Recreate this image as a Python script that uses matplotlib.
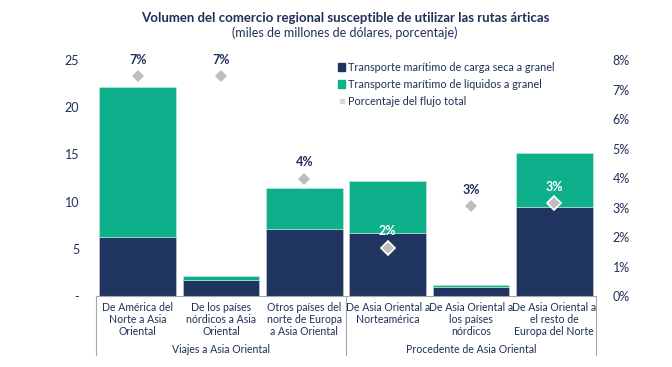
import matplotlib
matplotlib.use("Agg")
import matplotlib.pyplot as plt
from matplotlib.lines import Line2D
from matplotlib.patches import Patch
from matplotlib.transforms import blended_transform_factory

categories = ["De América del\nNorte a Asia\nOriental",
              "De los países\nnórdicos a Asia\nOriental",
              "Otros países del\nnorte de Europa\na Asia Oriental",
              "De Asia Oriental a\nNorteamérica",
              "De Asia Oriental a\nlos países\nnórdicos",
              "De Asia Oriental a\nel resto de\nEuropa del Norte"]
groups = ["Viajes a Asia Oriental", "Procedente de Asia Oriental"]
dry_bulk = [6.2, 1.7, 7.1, 6.7, 0.95, 9.4]
liquid_bulk = [15.9, 0.4, 4.3, 5.5, 0.2, 5.8]
pct_share = [7.45, 7.45, 3.97, 1.63, 3.05, 3.15]
pct_labels = ["7%", "7%", "4%", "2%", "3%", "3%"]
left_ticks = [0, 5, 10, 15, 20, 25]
left_labels = ["-", "5", "10", "15", "20", "25"]
right_ticks = [0, 1, 2, 3, 4, 5, 6, 7, 8]

NAVY = "#1f3560"
GREEN = "#0db08b"
GRAY = "#bdbdbd"
TXT = "#1f3057"

plt.rcParams['font.family'] = ['Lato', 'DejaVu Sans']

fig = plt.figure(figsize=(6.72, 3.67), dpi=100)
ax = fig.add_axes([96/672, 1-296/367, 500/672, (296-60)/367])
ax2 = ax.twinx()

x = list(range(len(categories)))
ax.bar(x, dry_bulk, width=0.92, color=NAVY, edgecolor="#c8d0dc", linewidth=0.4,
       label="Transporte marítimo de carga seca a granel", zorder=2)
ax.bar(x, liquid_bulk, bottom=dry_bulk, width=0.92, color=GREEN, edgecolor="#c8ece2",
       linewidth=0.4, label="Transporte marítimo de líquidos a granel", zorder=2)

ax.set_xlim(-0.5, len(categories) - 0.5)
ax.set_ylim(0, 25)
ax2.set_ylim(0, 8)

for i, (p, lab) in enumerate(zip(pct_share, pct_labels)):
    inside = p / 8 * 25 < dry_bulk[i] + liquid_bulk[i]
    ec = "white" if inside else GRAY
    ax2.plot(i, p, marker="D", markersize=7 if inside else 6, color=GRAY,
             markeredgecolor=ec, markeredgewidth=1.2 if inside else 0, zorder=4, linestyle="none")
    ax2.annotate(lab, (i, p), xytext=(0, 7.5), textcoords="offset points", ha="center",
                 va="bottom", fontsize=9, fontweight="bold",
                 color="white" if inside else TXT, zorder=5)

ax.set_yticks(left_ticks)
ax.set_yticklabels(left_labels)
ax2.set_yticks(right_ticks)
ax2.set_yticklabels([f"{t}%" for t in right_ticks])
for a in (ax, ax2):
    a.tick_params(axis="y", length=0, labelsize=9, labelcolor=TXT, pad=12)
    for s in a.spines.values():
        s.set_visible(False)
ax.set_xticks([])
ax2.set_xticks([])
ax.spines["bottom"].set_visible(True)
ax.spines["bottom"].set_color("#a6a6a6")
ax.spines["bottom"].set_linewidth(0.8)

trans = blended_transform_factory(ax.transData, ax.transAxes)
for i, c in enumerate(categories):
    ax.text(i, -0.025, c, transform=trans, ha="center", va="top", fontsize=7.6,
            color=TXT, linespacing=1.1)
ax.text(1, -0.205, groups[0], transform=trans, ha="center", va="top", fontsize=7.6, color=TXT)
ax.text(4, -0.205, groups[1], transform=trans, ha="center", va="top", fontsize=7.6, color=TXT)
for xv in (-0.5, 2.5, 5.5):
    ax.add_line(Line2D([xv, xv], [0, -0.25], transform=trans, color="#a6a6a6",
                       linewidth=0.8, clip_on=False))

handles = [Patch(color=NAVY), Patch(color=GREEN),
           Line2D([], [], marker="s", color="#d9d9d9", markersize=2.5, linestyle="none")]
labels = ["Transporte marítimo de carga seca a granel",
          "Transporte marítimo de líquidos a granel",
          "Porcentaje del flujo total"]
leg = ax2.legend(handles, labels, loc="upper left", bbox_to_anchor=(0.475, 1.01), frameon=False,
                 fontsize=7.8, handlelength=0.7, handleheight=0.7, handletextpad=0.2,
                 labelspacing=0.55, borderaxespad=0)
for t in leg.get_texts():
    t.set_color(TXT)

fig.text(345/672, 1-18/367, "Volumen del comercio regional susceptible de utilizar las rutas árticas",
         ha="center", va="center", fontsize=9.5, fontweight="bold", color=TXT)
fig.text(345/672, 1-33/367, "(miles de millones de dólares, porcentaje)",
         ha="center", va="center", fontsize=9, color=TXT)

fig.savefig("out.png", dpi=100)
